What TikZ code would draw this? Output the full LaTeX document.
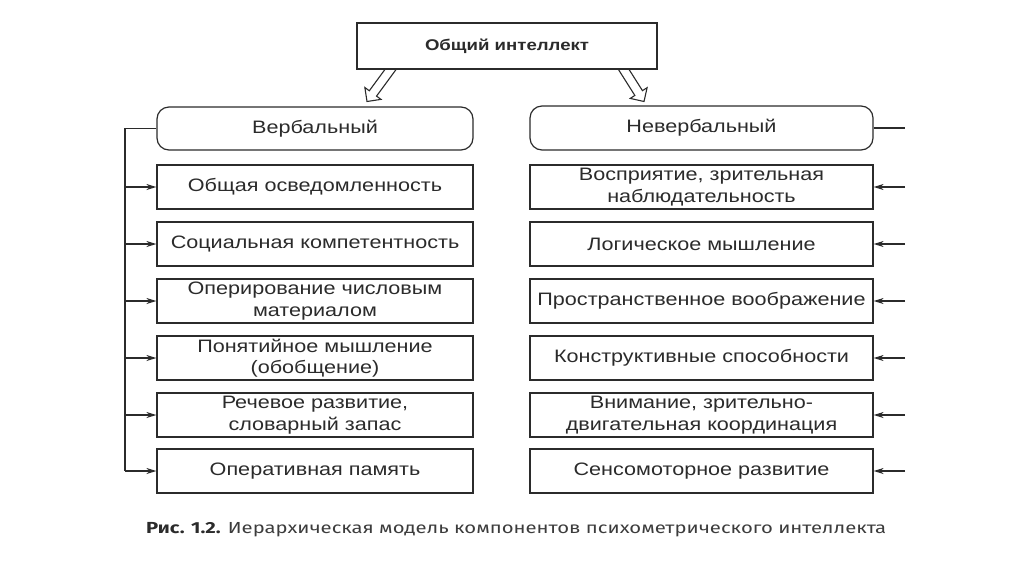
\documentclass[tikz,border=0pt]{standalone}
\usepackage{fontspec}
\setmainfont{Liberation Sans}
\newfontfamily\dfont[FakeStretch=1.2]{Liberation Sans}
\newfontfamily\capfont{Fira Sans}
\usetikzlibrary{arrows.meta,calc}
\definecolor{ink}{HTML}{2B2B2B}
\definecolor{capgray}{HTML}{3C3C3C}
\begin{document}
\begin{tikzpicture}[x=1pt,y=-1pt,
  box/.style={draw=ink, line width=1.2pt, fill=white, minimum height=44pt, inner sep=0pt, align=center,
    font=\dfont\fontsize{18}{21.6}\selectfont, text=ink},
  lbox/.style={box, minimum width=316pt},
  rbox/.style={box, minimum width=343pt},
  conn/.style={draw=ink, line width=1.3pt},
  arr/.style={conn, -{Stealth[length=10pt,width=6pt]}},
  hollow/.style={draw=ink, line width=1.1pt, fill=white, line join=miter}
]
\useasboundingbox (0,0) rectangle (1024,576);

% hollow arrows
\coordinate (lt) at (396,62);
\coordinate (lp) at (367,101.5);
\coordinate (lb) at ($(lp)!10pt!(lt)$);
\coordinate (rt) at (619,62);
\coordinate (rp) at (644,101.5);
\coordinate (rb) at ($(rp)!10pt!(rt)$);
\draw[hollow] ($(lt)!4.5pt!90:(lp)$) -- ($(lb)!4.5pt!90:(lp)$) -- ($(lb)!10pt!90:(lp)$) -- (lp)
  -- ($(lb)!10pt!-90:(lp)$) -- ($(lb)!4.5pt!-90:(lp)$) -- ($(lt)!4.5pt!-90:(lp)$) -- cycle;
\draw[hollow] ($(rt)!4.5pt!90:(rp)$) -- ($(rb)!4.5pt!90:(rp)$) -- ($(rb)!10pt!90:(rp)$) -- (rp)
  -- ($(rb)!10pt!-90:(rp)$) -- ($(rb)!4.5pt!-90:(rp)$) -- ($(rt)!4.5pt!-90:(rp)$) -- cycle;

% top
\node[box, minimum width=300pt, minimum height=46pt, font=\dfont\bfseries\fontsize{15.5}{18}\selectfont] (top) at (507,46) {Общий интеллект};

% group heads
\node[lbox, rounded corners=12pt, minimum height=43pt] (verb) at (315,128.5) {Вербальный};
\node[rbox, rounded corners=12pt] (nverb) at (701.5,128) {Невербальный};

% left column
\node[lbox] (l1) at (315,187) {Общая осведомленность};
\node[lbox] (l2) at (315,244) {Социальная компетентность};
\node[lbox] (l3) at (315,301) {Оперирование числовым\\материалом};
\node[lbox] (l4) at (315,358) {Понятийное мышление\\(обобщение)};
\node[lbox] (l5) at (315,415) {Речевое развитие,\\словарный запас};
\node[lbox] (l6) at (315,471) {Оперативная память};

% right column
\node[rbox] (r1) at (701.5,187) {Восприятие, зрительная\\наблюдательность};
\node[rbox] (r2) at (701.5,244) {Логическое мышление};
\node[rbox] (r3) at (701.5,301) {Пространственное воображение};
\node[rbox] (r4) at (701.5,358) {Конструктивные способности};
\node[rbox] (r5) at (701.5,415) {Внимание, зрительно-\\двигательная координация};
\node[rbox] (r6) at (701.5,471) {Сенсомоторное развитие};

% left spine
\coordinate (ls0) at (125,128.5);
\coordinate (lsend) at (125,471);
\draw[conn] (verb.west) -- (ls0) -- (lsend);
\foreach \n in {l1,l2,l3,l4,l5,l6}
  \draw[arr] (125,0 |- \n.west) -- (\n.west);

% right side
\coordinate (rs0) at (905,128);
\draw[conn] (nverb.east) -- (rs0);
\foreach \n in {r1,r2,r3,r4,r5,r6}
  \draw[arr] (905,0 |- \n.east) -- (\n.east);

% caption
\node[anchor=base west, inner sep=0pt] (cap) at (146,533.5)
  {\resizebox{740pt}{\height}{\capfont\fontsize{16}{19}\selectfont\textcolor{ink}{\textbf{Рис. 1.2.}} \textcolor{capgray}{Иерархическая модель компонентов психометрического интеллекта}}};
\end{tikzpicture}
\end{document}
